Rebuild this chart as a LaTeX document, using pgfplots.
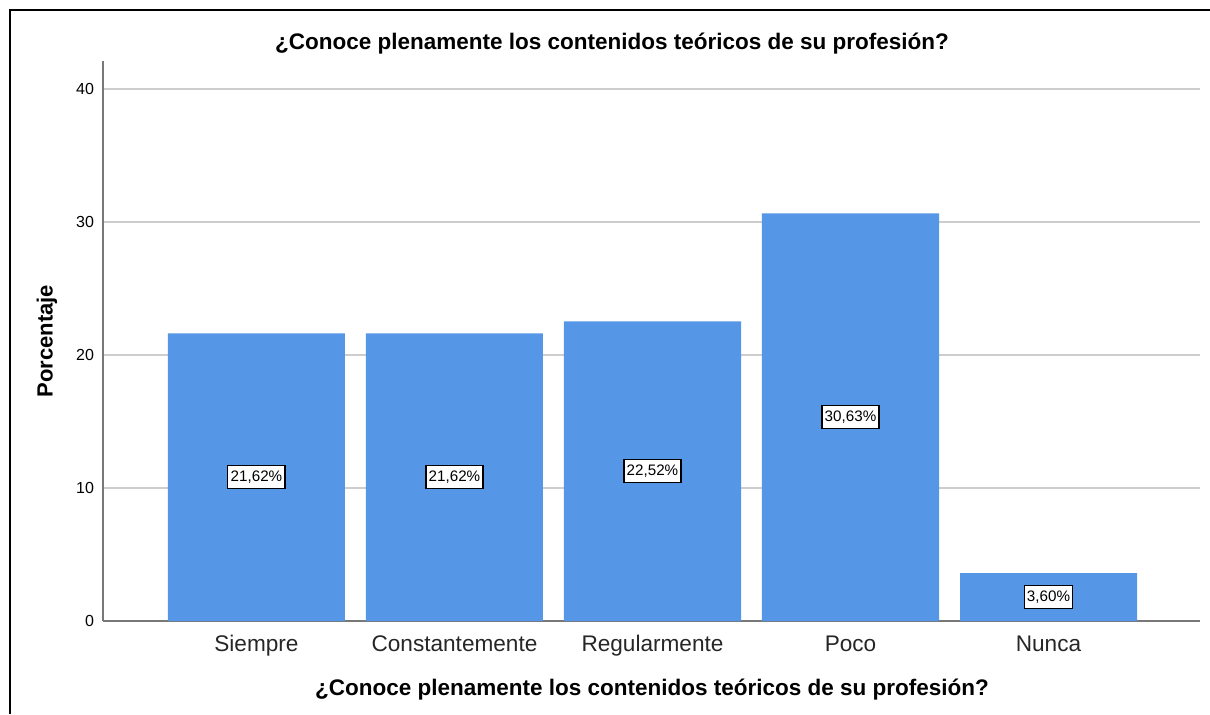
\documentclass[border=0pt]{standalone}
\usepackage{pgfplots}
\pgfplotsset{compat=1.18}
\usepackage{fontspec}
\setmainfont{Liberation Sans}
\definecolor{barblue}{RGB}{85,150,230}
\definecolor{gridgray}{RGB}{205,205,205}
\definecolor{axgray}{RGB}{120,120,120}
\begin{document}
\begin{tikzpicture}
\useasboundingbox (0pt,0pt) rectangle (605pt,-357pt);
\draw[line width=1pt] (5pt,-357pt) -- (5pt,-5pt) -- (605pt,-5pt);
\begin{axis}[
  at={(51.5pt,-310.5pt)}, anchor=south west,
  scale only axis, width=548.5pt, height=280.15pt,
  xmin=-0.775, xmax=4.765, ymin=0, ymax=42.1,
  axis x line*=bottom, axis y line*=left,
  axis line style={draw=axgray, line width=0.6pt, -},
  ymajorgrids, grid style={draw=gridgray, line width=0.9pt},
  major tick length=0pt,
  xtick={0,1,2,3,4},
  xticklabels={Siempre,Constantemente,Regularmente,Poco,Nunca},
  ytick={0,10,20,30,40},
  /pgf/number format/assume math mode=true,
  xticklabel style={font=\fontsize{11.3}{13}\selectfont, text=black!85, anchor=base, yshift=-15pt},
  yticklabel style={font=\fontsize{8}{10}\selectfont, xshift=-1pt},
]
\addplot[ybar, bar width=0.894, fill=barblue, draw=none] coordinates {(0,21.62) (1,21.62) (2,22.52) (3,30.63) (4,3.60)};
\addplot[draw=none, mark=none, nodes near coords, point meta=explicit symbolic,
  nodes near coords style={anchor=center, draw=black, fill=white, line width=0.6pt,
    font=\fontsize{7.6}{9}\selectfont, inner xsep=1.4pt, inner ysep=2.6pt, yshift=0pt}]
  coordinates {(0,10.81)[21,62\%] (1,10.81)[21,62\%] (2,11.26)[22,52\%] (3,15.315)[30,63\%] (4,1.80)[3,60\%]};
\end{axis}
\node[font=\bfseries\fontsize{11.25}{13}\selectfont] at (306pt,-22pt) {¿Conoce plenamente los contenidos teóricos de su profesión?};
\node[font=\bfseries\fontsize{11.25}{13}\selectfont] at (326pt,-345pt) {¿Conoce plenamente los contenidos teóricos de su profesión?};
\node[font=\bfseries\fontsize{11}{13}\selectfont, rotate=90] at (23.5pt,-170.5pt) {Porcentaje};
\end{tikzpicture}
\end{document}
